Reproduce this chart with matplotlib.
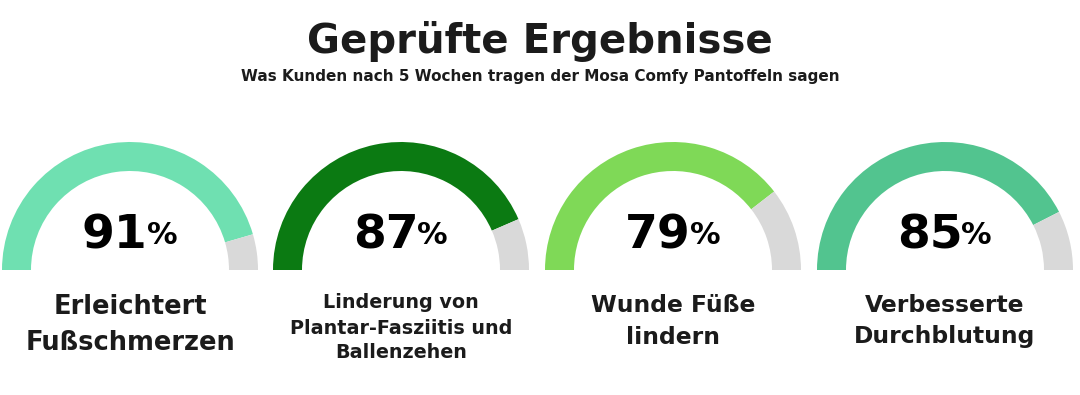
import matplotlib.pyplot as plt
from matplotlib.patches import Wedge

# data
values = [91, 87, 79, 85]
labels = ["Erleichtert\nFußschmerzen",
          "Linderung von\nPlantar-Fasziitis und\nBallenzehen",
          "Wunde Füße\nlindern",
          "Verbesserte\nDurchblutung"]
colors = ["#6fe0b1", "#0b7a12", "#7fd957", "#52c48f"]
title = "Geprüfte Ergebnisse"
subtitle = "Was Kunden nach 5 Wochen tragen der Mosa Comfy Pantoffeln sagen"

W, H = 1080, 395
fig = plt.figure(figsize=(W / 100, H / 100), dpi=100)
ax = fig.add_axes([0, 0, 1, 1])
ax.set_xlim(0, W)
ax.set_ylim(0, H)
ax.axis("off")

dark = "#1b1b1b"
font = ["DejaVu Sans"]

ax.text(540, H - 42, title, ha="center", va="center", fontsize=29,
        fontweight="bold", family=font, color=dark)
ax.text(540, H - 77, subtitle, ha="center", va="center", fontsize=11,
        fontweight="bold", family=font, color=dark)

centers = [130, 401, 673, 945]
cy = H - 270
r_out, thick = 128, 29
label_size = [18.5, 13.8, 16.8, 16.8]
label_gap = [36, 25, 31, 31]
label_top = [307, 303, 306, 306]

fig.canvas.draw()
renderer = fig.canvas.get_renderer()
inv = ax.transData.inverted()

for i, v in enumerate(values):
    cx = centers[i]
    split = 180 - 180 * v / 100
    ax.add_patch(Wedge((cx, cy), r_out, split, 180, width=thick,
                       facecolor=colors[i], edgecolor="none"))
    ax.add_patch(Wedge((cx, cy), r_out, 0, split, width=thick,
                       facecolor="#d9d9d9", edgecolor="none"))

    # number + smaller percent sign, centred together
    ty = H - 236
    t1 = ax.text(cx, ty, str(v), ha="left", va="center", fontsize=34,
                 fontweight="bold", family=font, color="black")
    t2 = ax.text(cx, ty, "%", ha="left", va="center", fontsize=22,
                 fontweight="bold", family=font, color="black")
    b1 = t1.get_window_extent(renderer)
    b2 = t2.get_window_extent(renderer)
    w1 = inv.transform((b1.x1, 0))[0] - inv.transform((b1.x0, 0))[0]
    w2 = inv.transform((b2.x1, 0))[0] - inv.transform((b2.x0, 0))[0]
    start = cx - (w1 + w2) / 2
    t1.set_x(start)
    t2.set_x(start + w1 - 1)

    for j, line in enumerate(labels[i].split("\n")):
        ax.text(cx, H - (label_top[i] + j * label_gap[i]), line, ha="center",
                va="center", fontsize=label_size[i], fontweight="bold",
                family=font, color=dark)

fig.savefig("out.png", dpi=100, facecolor="white")
